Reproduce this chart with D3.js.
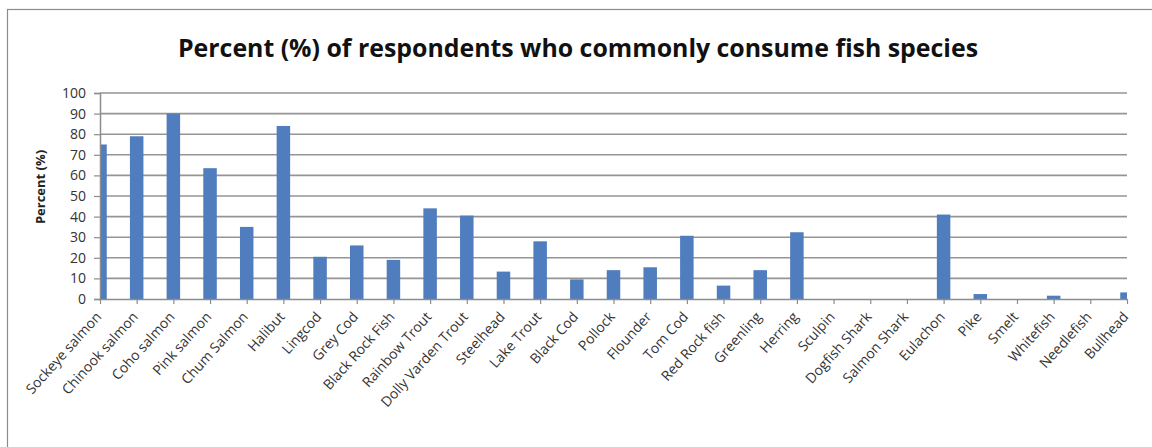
<!DOCTYPE html>
<html lang="en"><head>
<meta charset="UTF-8">
<title>Fish species consumption</title>
<script src="https://cdn.jsdelivr.net/npm/d3@7"></script>
<style>
body { margin: 0; background: #fff; }
text { font-family: "Open Sans", "Liberation Sans", sans-serif; }
</style>
</head>
<body>
<script>

var width = 1152;
var height = 447;

// categories and percent values
var species = ["Sockeye salmon", "Chinook salmon", "Coho salmon", "Pink salmon", "Chum Salmon",
  "Halibut", "Lingcod", "Grey Cod", "Black Rock Fish", "Rainbow Trout", "Dolly Varden Trout",
  "Steelhead", "Lake Trout", "Black Cod", "Pollock", "Flounder", "Tom Cod", "Red Rock fish",
  "Greenling", "Herring", "Sculpin", "Dogfish Shark", "Salmon Shark", "Eulachon", "Pike",
  "Smelt", "Whitefish", "Needlefish", "Bullhead"];
var percents = [75, 79, 90, 63.5, 35, 84, 20.5, 26, 19, 44, 40.5, 13.3, 28, 9.5, 14, 15.4,
  30.7, 6.5, 14, 32.4, 0, 0, 0, 41, 2.4, 0, 1.6, 0, 3.2];
var yTicks = [0, 10, 20, 30, 40, 50, 60, 70, 80, 90, 100];

var titleText = "Percent (%) of respondents who commonly consume fish species";
var yTitle = "Percent (%)";

// plot area edges (not "top": that name is taken by window.top)
var plotLeft = 100, plotRight = 1127, plotTop = 93, plotBottom = 299;

var svg = d3.select("body").append("svg")
  .attr("width", width)
  .attr("height", height);

// outer chart border (only left and top show in the crop)
svg.append("rect")
  .attr("x", 7.5).attr("y", 9.5)
  .attr("width", 1200).attr("height", 500)
  .attr("fill", "none")
  .attr("stroke", "#8c8c8c")
  .attr("stroke-width", 1.2);

// categories sit on the tick marks, so use a point scale
var x = d3.scalePoint()
  .domain(species)
  .range([plotLeft, plotRight]);

var y = d3.scaleLinear()
  .domain([0, 100])
  .range([plotBottom, plotTop]);

var barW = 13.5;

// grid lines
svg.append("g")
  .selectAll("line")
  .data(yTicks.filter(function(d) { return d > 0; }))
  .enter().append("line")
  .attr("x1", plotLeft).attr("x2", plotRight)
  .attr("y1", function(d) { return y(d); })
  .attr("y2", function(d) { return y(d); })
  .attr("stroke", "#959595")
  .attr("stroke-width", 1.6);

svg.append("clipPath").attr("id", "plotClip")
  .append("rect")
  .attr("x", plotLeft).attr("y", plotTop - 5)
  .attr("width", plotRight - plotLeft).attr("height", plotBottom - plotTop + 5);

svg.append("g")
  .attr("clip-path", "url(#plotClip)")
  .selectAll("rect")
  .data(percents)
  .enter().append("rect")
  .attr("x", function(d, i) { return x(species[i]) - barW / 2; })
  .attr("y", function(d) { return y(d); })
  .attr("width", barW)
  .attr("height", function(d) { return plotBottom - y(d); })
  .attr("fill", "#4f7dbd");

// y axis
var yAxis = svg.append("g")
  .attr("transform", "translate(" + plotLeft + ",0)")
  .call(d3.axisLeft(y).tickValues(yTicks).tickSize(6).tickPadding(8));
yAxis.select(".domain").attr("stroke", "#8c8c8c").attr("stroke-width", 1.5);
yAxis.selectAll(".tick line").attr("stroke", "#8c8c8c").attr("stroke-width", 1.2);
yAxis.selectAll(".tick text")
  .attr("font-size", 14)
  .attr("fill", "#333");

// x axis
var xAxis = svg.append("g")
  .attr("transform", "translate(0," + plotBottom + ")")
  .call(d3.axisBottom(x).tickSize(5).tickSizeOuter(0));
xAxis.select(".domain").attr("stroke", "#8c8c8c").attr("stroke-width", 1.5);
xAxis.selectAll(".tick line").attr("stroke", "#8c8c8c").attr("stroke-width", 1.2);
xAxis.selectAll(".tick text")
  .attr("font-size", 14)
  .attr("fill", "#333")
  .attr("text-anchor", "end")
  .attr("y", 0)
  .attr("dy", "0.35em")
  .attr("transform", "translate(-2,15) rotate(-48)");

// y axis title
svg.append("text")
  .attr("transform", "translate(45,187) rotate(-90)")
  .attr("text-anchor", "middle")
  .attr("font-size", 13)
  .attr("font-weight", "bold")
  .attr("fill", "#222")
  .text(yTitle);

// chart title
svg.append("text")
  .attr("x", 578)
  .attr("y", 57)
  .attr("text-anchor", "middle")
  .attr("font-size", 25)
  .attr("font-weight", "bold")
  .attr("fill", "#111")
  .attr("textLength", 800)
  .attr("lengthAdjust", "spacingAndGlyphs")
  .text(titleText);

</script>
</body></html>
